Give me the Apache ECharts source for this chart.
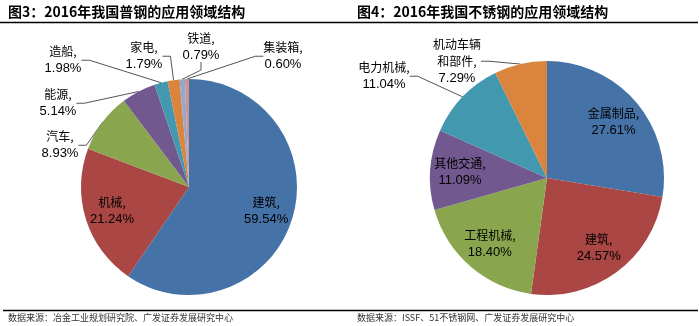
<!DOCTYPE html>
<html><head><meta charset="utf-8">
<script src="https://cdn.jsdelivr.net/npm/echarts@6/dist/echarts.min.js"></script>
<style>html,body{margin:0;padding:0;background:#fff}#c{width:700px;height:326px}</style>
</head><body><div id="c"></div>
<script>
// ---- data ----
const leftTitle = '图3：2016年我国普钢的应用领域结构';
const rightTitle = '图4：2016年我国不锈钢的应用领域结构';
const leftSource = '数据来源：冶金工业规划研究院、广发证券发展研究中心';
const rightSource = '数据来源：ISSF、51不锈钢网、广发证券发展研究中心';
const leftNames = ['建筑','机械','汽车','能源','造船','家电','铁道','集装箱'];
const leftValues = [59.54,21.24,8.93,5.14,1.98,1.79,0.79,0.60];
const rightNames = ['金属制品','建筑','工程机械','其他交通','电力机械','机动车辆\n和部件'];
const rightValues = [27.61,24.57,18.40,11.09,11.04,7.29];
const leftInside = [0,1];
const rightInside = [0,1,2,3];

// ---- styling / layout ----
const leftColors = ['#4572A7','#AA4643','#89A54E','#71588F','#4198AF','#DB843D','#93A9CF','#D19392'];
const rightColors = ['#4572A7','#AA4643','#89A54E','#71588F','#4198AF','#DB843D'];
const leftLabelPos = {2:[60,145],3:[58,103],4:[63,60],5:[144,56],6:[201,47],7:[283,56]};
const rightLabelPos = {4:[384,76],5:[457,61]};
const LC = [189,187], LR = 108;
const RC = [547,178], RR = 117;

function fmt(p){
  const parts = p.name.split('\n');
  let s = '';
  parts.forEach((t,i)=>{ s += '{cn|' + t + (i===parts.length-1?',':'') + '}\n'; });
  return s + '{num|' + p.value.toFixed(2) + '%}';
}
const rich = {
  cn:{fontFamily:'Noto Sans CJK SC',fontSize:12,color:'#000',lineHeight:17,align:'center'},
  num:{fontFamily:'Liberation Sans',fontSize:13,color:'#000',lineHeight:17,align:'center'}
};
function mainSeries(names, values, colors, center, r, inside, pos){
  return {
    type:'pie', center:center, radius:[0,r], startAngle:90, clockwise:true,
    avoidLabelOverlap:false, silent:true,
    data: names.map((n,i)=>({name:n, value:values[i], itemStyle:{color:colors[i]},
      label:{show: inside.indexOf(i)<0}, labelLine:{show: inside.indexOf(i)<0}})),
    label:{position:'outside', formatter:fmt, rich:rich, align:'center'},
    labelLine:{length:8,length2:8, lineStyle:{color:'#555',width:1}},
    labelLayout: function(p){
      const q = pos[p.dataIndex];
      if(!q) return {};
      return {x:q[0], y:q[1], align:'center', verticalAlign:'middle'};
    },
    itemStyle:{borderWidth:0}
  };
}
function insideSeries(names, values, center, r, inside){
  return {
    type:'pie', center:center, radius:[r*0.44, r], startAngle:90, clockwise:true, silent:true,
    data: names.map((n,i)=>({name:n, value:values[i], label:{show: inside.indexOf(i)>=0}})),
    itemStyle:{color:'rgba(0,0,0,0)'},
    label:{position:'inside', formatter:fmt, rich:rich, align:'center'},
    labelLine:{show:false}, z:5
  };
}
const chart = echarts.init(document.getElementById('c'), null, {renderer:'canvas'});
chart.setOption({
  backgroundColor:'#fff',
  animation:false,
  series:[
    mainSeries(leftNames,leftValues,leftColors,LC,LR,leftInside,leftLabelPos),
    insideSeries(leftNames,leftValues,LC,LR,leftInside),
    mainSeries(rightNames,rightValues,rightColors,RC,RR,rightInside,rightLabelPos),
    insideSeries(rightNames,rightValues,RC,RR,rightInside)
  ],
  graphic:[
    {type:'text', left:8, top:5, style:{text:leftTitle, font:'bold 14px "Noto Sans CJK SC"', fill:'#000'}},
    {type:'text', left:357, top:5, style:{text:rightTitle, font:'bold 14px "Noto Sans CJK SC"', fill:'#000'}},
    {type:'line', shape:{x1:0,y1:22.5,x2:698,y2:22.5}, style:{stroke:'#000',lineWidth:1.5}},
    {type:'line', shape:{x1:3,y1:310.5,x2:698,y2:310.5}, style:{stroke:'#000',lineWidth:1.5}},
    {type:'text', left:8, top:313, style:{text:leftSource, font:'9px "Noto Sans CJK SC"', fill:'#333'}},
    {type:'text', left:357, top:313, style:{text:rightSource, font:'9px "Noto Sans CJK SC"', fill:'#333'}}
  ]
});
</script></body></html>
